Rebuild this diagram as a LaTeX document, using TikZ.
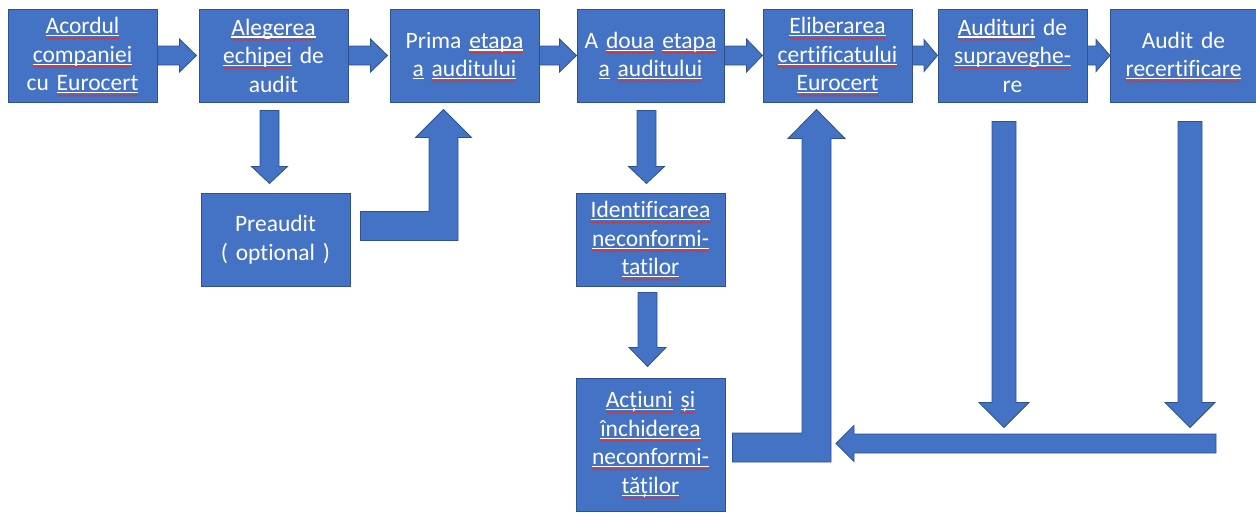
\documentclass[tikz,border=0pt]{standalone}
\usepackage{fontspec}
\setmainfont[Ligatures=CommonOff]{Carlito}
\usetikzlibrary{calc,decorations.pathmorphing}
\definecolor{boxblue}{HTML}{4472C4}
\definecolor{boxedge}{HTML}{2F528F}
\definecolor{spellred}{HTML}{E03030}
\newlength\swlen
\newsavebox\swbox
\newcommand\sw[1]{\leavevmode\sbox\swbox{#1}\setlength\swlen{\wd\swbox}%
  \rlap{\color{white}\rule[-2.6pt]{\swlen}{1.2pt}}%
  \rlap{\tikz[overlay,x=1pt,y=1pt,baseline=0pt]\draw[spellred,line width=0.7pt,decorate,decoration={snake,amplitude=0.8pt,segment length=3pt}] (0pt,-4.6pt) -- (\swlen,-4.6pt);}%
  \usebox\swbox}
\newcommand\wu[1]{\leavevmode\sbox\swbox{#1}\setlength\swlen{\wd\swbox}%
  \rlap{\color{white}\rule[-2.6pt]{\swlen}{1.2pt}}\usebox\swbox}
\tikzset{
  stage/.style={draw=boxedge, line width=1pt, fill=boxblue, text=white,
    minimum width=149pt, minimum height=93pt, inner sep=0pt,
    text width=146pt, align=center,
    font=\fontsize{23.5}{28.5}\selectfont},
  blk/.style={draw=boxedge, line width=0.8pt, fill=boxblue}
}
% right-pointing block arrow: from #1 to #2, half shaft #3, half head #4, head length #5
\newcommand\rightblock[5]{\filldraw[blk] let \p1=(#1), \p2=(#2) in
  (\x1,\y1+#3) -- (\x2-#5,\y1+#3) -- (\x2-#5,\y1+#4) -- (\x2,\y1)
  -- (\x2-#5,\y1-#4) -- (\x2-#5,\y1-#3) -- (\x1,\y1-#3) -- cycle;}
% down-pointing block arrow
\newcommand\downblock[5]{\filldraw[blk] let \p1=(#1), \p2=(#2) in
  (\x1-#3,\y1) -- (\x1-#3,\y2+#5) -- (\x1-#4,\y2+#5) -- (\x1,\y2)
  -- (\x1+#4,\y2+#5) -- (\x1+#3,\y2+#5) -- (\x1+#3,\y1) -- cycle;}
% left-pointing block arrow
\newcommand\leftblock[5]{\filldraw[blk] let \p1=(#1), \p2=(#2) in
  (\x1,\y1+#3) -- (\x2+#5,\y1+#3) -- (\x2+#5,\y1+#4) -- (\x2,\y1)
  -- (\x2+#5,\y1-#4) -- (\x2+#5,\y1-#3) -- (\x1,\y1-#3) -- cycle;}
% bent (right then up) block arrow: tail #1, tip #2
\newcommand\bentblock[5]{\filldraw[blk] let \p1=(#1), \p2=(#2) in
  (\x1,\y1+#3) -- (\x2-#3,\y1+#3) -- (\x2-#3,\y2-#5) -- (\x2-#4,\y2-#5) -- (\x2,\y2)
  -- (\x2+#4,\y2-#5) -- (\x2+#3,\y2-#5) -- (\x2+#3,\y1-#3) -- (\x1,\y1-#3) -- cycle;}
\begin{document}
\begin{tikzpicture}[x=1pt,y=-1pt]
\useasboundingbox (0,0) rectangle (1256,512);
% top row
\node[stage] (b1) at (82.5,55.5) {\sw{Acordul}\\ \sw{companiei}\\ cu \sw{Eurocert}};
\node[stage] (b2) at (273.5,55.5) {\sw{Alegerea}\\ \sw{echipei} de\\ audit};
\node[stage] (b3) at (464.5,55.5) {Prima \sw{etapa}\\ \wu{a} \sw{auditului}};
\node[stage, minimum width=147pt] (b4) at (650.5,55.5) {A \sw{doua} \sw{etapa}\\ \wu{a} \sw{auditului}};
\node[stage] (b5) at (837.5,55.5) {\sw{Eliberarea}\\ \sw{certificatului}\\ \sw{Eurocert}};
\node[stage] (b6) at (1012.5,55.5) {\sw{Audituri} de\\ \sw{supraveghe-}\\ re};
\node[stage, minimum width=143pt] (b7) at (1183.5,55.5) {Audit de\\ \sw{recertificare}};
% lower boxes
\node[stage] (pre) at (275.5,239.5) {Preaudit\\ ( optional )};
\node[stage] (idf) at (650.5,239.5) {\sw{Identificarea}\\ \sw{neconformi-}\\ \sw{tatilor}};
\node[stage, minimum height=133pt] (act) at (650.5,444.5) {\sw{Acțiuni} \sw{și}\\ \sw{închiderea}\\ \sw{neconformi-}\\ \sw{tăților}};
% horizontal arrows on the top row
\rightblock{b1.east}{$(b2.west)+(-2,0)$}{9.5pt}{16.5pt}{17pt}
\rightblock{b2.east}{$(b3.west)+(-2,0)$}{9.5pt}{16.5pt}{17pt}
\rightblock{b3.east}{b4.west}{9.5pt}{16.5pt}{17pt}
\rightblock{b4.east}{b5.west}{9.5pt}{16.5pt}{16pt}
\rightblock{b5.east}{b6.west}{9.5pt}{16pt}{13.5pt}
\rightblock{b6.east}{b7.west}{9.5pt}{16pt}{14pt}
% down arrows
\downblock{$(b2.south)+(-4,8)$}{$(pre.north)+(-6,-9)$}{9.5pt}{18pt}{17pt}
\downblock{$(b4.south)+(-4,8)$}{$(idf.north)+(-4,-9)$}{9.5pt}{18pt}{17pt}
\downblock{$(idf.south)+(-3,6)$}{$(act.north)+(-3,-11)$}{9.5pt}{18.5pt}{19pt}
% bent arrows
\bentblock{$(pre.east)+(10,-13.5)$}{$(b3.south)+(-21,7)$}{14.5pt}{28pt}{28pt}
\bentblock{$(act.east)+(7,3)$}{$(b5.south)+(-21,7)$}{14.5pt}{28.5pt}{29pt}
% surveillance / recertification arrows
\coordinate (lt) at (1216,443.5);
\coordinate (lh) at (836,443.5);
\downblock{$(b6.south)+(-8.5,19)$}{$(b6.south)+(-8.5,325)$}{12pt}{25pt}{25pt}
\downblock{$(b7.south)+(6.5,19)$}{$(b7.south)+(6.5,325)$}{12pt}{25pt}{25pt}
\leftblock{lt}{lh}{9.5pt}{18pt}{18pt}
\end{tikzpicture}
\end{document}
